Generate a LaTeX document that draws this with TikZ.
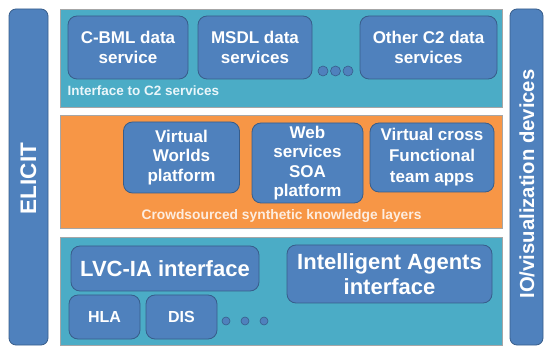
\documentclass[tikz,border=0pt]{standalone}
\usepackage{fontspec}
\setmainfont{Liberation Sans}
\definecolor{boxblue}{HTML}{4F81BD}
\definecolor{boxline}{HTML}{385D8A}
\definecolor{teal}{HTML}{4BACC6}
\definecolor{orng}{HTML}{F79646}
\definecolor{panelline}{HTML}{A6A6A6}
\definecolor{tealtext}{HTML}{EAF6FA}
\definecolor{orngtext}{HTML}{FDEDE0}
\tikzset{
  panel/.style={draw=panelline, line width=0.8pt},
  sidebar/.style={draw=boxline, fill=boxblue, rounded corners=7pt, line width=0.8pt},
  svcbox/.style={draw=boxline, fill=boxblue, rounded corners=9pt, line width=0.8pt,
    text=white, align=center, inner sep=0pt},
  c2font/.style={font=\bfseries\fontsize{17}{20.5}\selectfont},
  layerfont/.style={font=\bfseries\fontsize{17}{19.5}\selectfont},
  dot/.style={draw=boxline, fill=boxblue, line width=0.6pt},
}
\begin{document}
\begin{tikzpicture}[x=1pt,y=-1pt]
\useasboundingbox (0,0) rectangle (546,347);
% side bars
\draw[sidebar] (9,9) rectangle (48,345);
\draw[sidebar] (510,9) rectangle (543,345);
\node[text=white, rotate=90, font=\bfseries\fontsize{22.5}{24}\selectfont] (elicit) at (28.5,178.5) {ELICIT};
\node[text=white, rotate=90, font=\bfseries\fontsize{20.3}{22}\selectfont] (io) at (527,184) {IO/visualization devices};
% layer panels
\fill[teal] (60,9) rectangle (502,107);
\draw[panel] (60,9) rectangle (502,107);
\fill[orng] (60,115) rectangle (502,228);
\draw[panel] (60,115) rectangle (502,228);
\fill[teal] (60,237) rectangle (502,345);
\draw[panel] (60,237) rectangle (502,345);
% C2 services layer
\node[svcbox, c2font, minimum width=120, minimum height=63] (cbml) at (128,47.5) {C-BML data\\service};
\node[svcbox, c2font, minimum width=114, minimum height=63] (msdl) at (255,47.5) {MSDL data\\services};
\node[svcbox, c2font, minimum width=137, minimum height=63] (other) at (428.5,47.5) {Other C2 data\\services};
\draw[dot] (323,71) circle (5);
\draw[dot] (335.5,71) circle (5);
\draw[dot] (348,71) circle (5);
\node[anchor=west, text=tealtext, font=\bfseries\fontsize{13.5}{15}\selectfont] (c2label) at (64,91) {Interface to C2 services};
% crowdsourced layer
\node[svcbox, layerfont, minimum width=116, minimum height=71] (vw) at (181.5,157.5) {Virtual\\Worlds\\platform};
\node[svcbox, layerfont, minimum width=111, minimum height=80] (web) at (307.5,163) {Web\\services\\SOA\\platform};
\node[svcbox, layerfont, minimum width=124, minimum height=69, font=\bfseries\fontsize{17}{21}\selectfont] (vc) at (432,157.5) {Virtual cross\\Functional\\team apps};
\node[text=orngtext, font=\bfseries\fontsize{13.8}{15}\selectfont] (csl) at (281.5,215.5) {Crowdsourced synthetic knowledge layers};
% simulation interface layer
\node[svcbox, minimum width=188, minimum height=45, font=\bfseries\fontsize{22}{24}\selectfont] (lvc) at (165,268.5) {LVC-IA interface};
\node[svcbox, minimum width=71, minimum height=44, font=\bfseries\fontsize{16}{18}\selectfont] (hla) at (104.5,317) {HLA};
\node[svcbox, minimum width=71, minimum height=44, font=\bfseries\fontsize{16}{18}\selectfont] (dis) at (181.5,317) {DIS};
\draw[dot] (226,321) circle (4);
\draw[dot] (245,321) circle (4);
\draw[dot] (264,321) circle (4);
\node[svcbox, minimum width=205, minimum height=58, font=\bfseries\fontsize{22}{25}\selectfont] (ia) at (389.5,274) {Intelligent Agents\\interface};
\end{tikzpicture}
\end{document}
